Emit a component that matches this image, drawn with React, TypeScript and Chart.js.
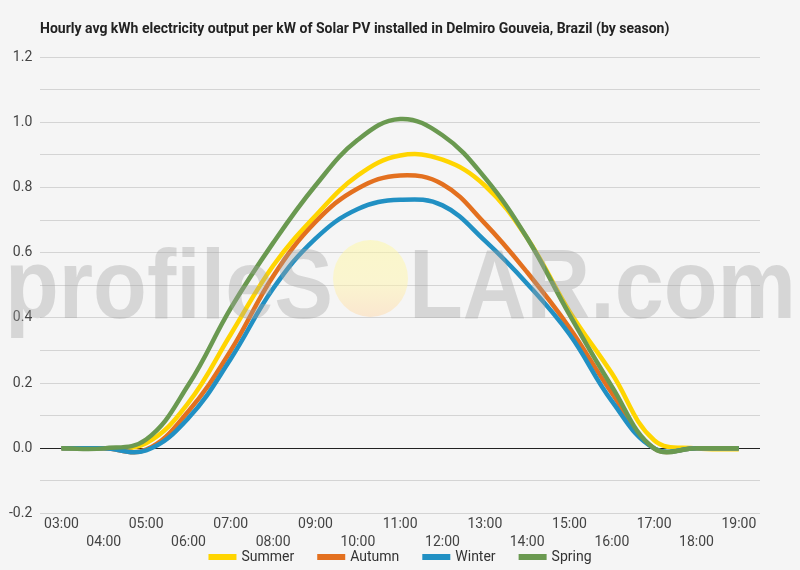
import React, { useEffect, useRef } from "react";
import { Chart, registerables } from "chart.js";

Chart.register(...registerables);

const TITLE = "Hourly avg kWh electricity output per kW of Solar PV installed in Delmiro Gouveia, Brazil (by season)";
const hours = ["03:00", "04:00", "05:00", "06:00", "07:00", "08:00", "09:00", "10:00", "11:00", "12:00", "13:00", "14:00", "15:00", "16:00", "17:00", "18:00", "19:00"];
const summer = [0, 0, 0.016, 0.14, 0.35, 0.56, 0.713, 0.837, 0.898, 0.885, 0.806, 0.645, 0.42, 0.23, 0.025, 0.0, -0.003];
const autumn = [0, 0, -0.004, 0.114, 0.3, 0.528, 0.694, 0.797, 0.837, 0.81, 0.69, 0.54, 0.37, 0.17, 0.0, 0, 0];
const winter = [0, 0, -0.006, 0.093, 0.275, 0.49, 0.643, 0.734, 0.762, 0.745, 0.637, 0.505, 0.35, 0.145, 0.0, 0, 0];
const spring = [0, 0, 0.027, 0.195, 0.43, 0.63, 0.806, 0.946, 1.01, 0.96, 0.83, 0.645, 0.41, 0.19, 0.0, 0, 0];
const seriesNames = ["Summer", "Autumn", "Winter", "Spring"];
const seriesColors = ["#FFD500", "#E3701F", "#2190C3", "#6A9950"];
const yTickLabels = ["-0.2", "0.0", "0.2", "0.4", "0.6", "0.8", "1.0", "1.2"];

const bgPlugin = {
  id: "bg",
  beforeDraw(chart: any) {
    const ctx = chart.ctx;
    ctx.save();
    ctx.fillStyle = "#f5f5f5";
    ctx.fillRect(0, 0, chart.width, chart.height);
    ctx.fillStyle = "#222";
    ctx.font = "bold 14px Roboto";
    ctx.textAlign = "left";
    ctx.textBaseline = "alphabetic";
    ctx.fillText(TITLE, 40, 33);
    ctx.restore();
  },
};

function fitText(ctx: any, text: string, x0: number, x1: number, y: number) {
  const w = ctx.measureText(text).width;
  ctx.save();
  ctx.translate(x0, y);
  ctx.scale((x1 - x0) / w, 1);
  ctx.textAlign = "left";
  ctx.fillText(text, 0, 0);
  ctx.restore();
}

const watermarkPlugin = {
  id: "wm",
  afterDatasetsDraw(chart: any) {
    const ctx = chart.ctx;
    ctx.save();
    ctx.font = "bold 99px 'Liberation Sans'";
    ctx.textBaseline = "alphabetic";
    ctx.fillStyle = "rgba(160,160,160,0.36)";
    fitText(ctx, "profileS", 5, 333, 318);
    fitText(ctx, "LAR.com", 409, 796, 318);
    const g = ctx.createLinearGradient(0, 240, 0, 318);
    g.addColorStop(0, "rgba(255,248,160,0.5)");
    g.addColorStop(0.55, "rgba(255,245,170,0.5)");
    g.addColorStop(1, "rgba(255,215,170,0.5)");
    ctx.fillStyle = g;
    ctx.beginPath();
    ctx.ellipse(370.5, 278.5, 37.5, 38.5, 0, 0, Math.PI * 2);
    ctx.fill();
    ctx.restore();
  },
};

const legendPlugin = {
  id: "customLegend",
  afterDraw(chart: any) {
    const ctx = chart.ctx;
    const ds = chart.data.datasets;
    ctx.save();
    ctx.font = "14px Roboto";
    ctx.textBaseline = "middle";
    ctx.textAlign = "left";
    const boxW = 28, boxH = 6, gap = 5, itemGap = 23;
    const widths = ds.map((d: any) => boxW + gap + ctx.measureText(d.label).width);
    const total = widths.reduce((a: number, b: number) => a + b, 0) + itemGap * (ds.length - 1);
    let x = 400 - total / 2;
    const y = 557;
    ds.forEach((d: any, i: number) => {
      ctx.fillStyle = d.borderColor;
      ctx.fillRect(x, y - boxH / 2, boxW, boxH);
      ctx.fillStyle = "#333";
      ctx.fillText(d.label, x + boxW + gap, y);
      x += widths[i] + itemGap;
    });
    ctx.restore();
  },
};

export default function App() {
  const ref = useRef<HTMLCanvasElement | null>(null);
  useEffect(() => {
    document.body.style.margin = "0";
    document.body.style.background = "#f5f5f5";
    const series = [summer, autumn, winter, spring];
    const chart = new Chart(ref.current as HTMLCanvasElement, {
      type: "line",
      data: {
        labels: hours,
        datasets: series.map((d, i) => ({
          label: seriesNames[i],
          data: d,
          borderColor: seriesColors[i],
          backgroundColor: seriesColors[i],
          borderWidth: 4.5,
          pointRadius: 0,
          tension: 0.4,
          fill: false,
          order: 3 - i,
        })),
      },
      options: {
        animation: false,
        responsive: false,
        devicePixelRatio: 1,
        layout: { padding: { top: 57, left: 1, right: 40, bottom: 16 } },
        font: { family: "Roboto" },
        plugins: {
          title: { display: false },
          tooltip: { enabled: false },
          legend: { display: false },
        },
        scales: {
          x: {
            offset: true,
            grid: { display: false, drawTicks: false },
            border: { display: false },
            ticks: {
              autoSkip: false,
              maxRotation: 0,
              padding: 2,
              color: "#444",
              font: { family: "Roboto", size: 14, lineHeight: 1.3 },
              callback: (v: any, i: number) => (i % 2 === 0 ? hours[i] : ["", hours[i]]),
            },
          },
          y: {
            min: -0.2,
            max: 1.2,
            grid: {
              drawTicks: false,
              color: (c: any) => (Math.abs(c.tick.value) < 1e-9 ? "#222" : "#d4d4d4"),
              lineWidth: 1,
            },
            border: { display: false },
            ticks: {
              stepSize: 0.1,
              padding: 8,
              color: "#444",
              font: { family: "Roboto", size: 14 },
              callback: (v: any) => {
                const k = Math.round(Number(v) * 10);
                if (k % 2 !== 0) return "";
                return yTickLabels[(k + 2) / 2];
              },
            },
          },
        },
      } as any,
      plugins: [bgPlugin, watermarkPlugin, legendPlugin],
    });
    return () => chart.destroy();
  }, []);
  return (
    <div style={{ width: 800, height: 570, background: "#f5f5f5" }}>
      <canvas ref={ref} width={800} height={570} style={{ display: "block" }} />
    </div>
  );
}
